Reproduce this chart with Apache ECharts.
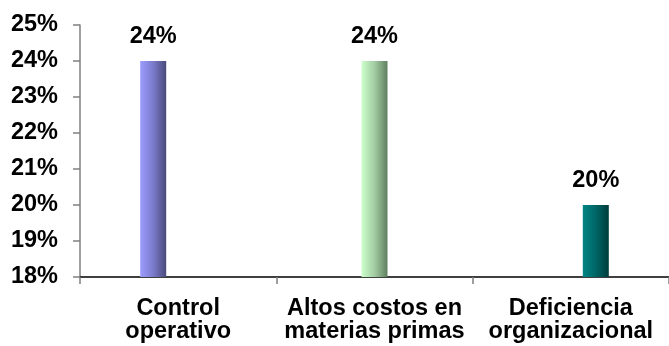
<!DOCTYPE html>
<html>
<head>
<meta charset="utf-8">
<script src="https://cdn.jsdelivr.net/npm/echarts@6/dist/echarts.min.js"></script>
<style>
  html, body { margin: 0; padding: 0; background: #ffffff; }
  #chart { width: 669px; height: 346px; }
</style>
</head>
<body>
<div id="chart"></div>
<script>
// Categories along the x axis
const categories = ['Control\noperativo', 'Altos costos en\nmaterias primas', 'Deficiencia\norganizacional'];
// One series per category (clustered slot), share as a fraction
const controlOperativo = [0.24, null, null];
const altosCostos = [null, 0.24, null];
const deficiencia = [null, null, 0.20];
// Y axis range and step
const yMin = 0.18;
const yMax = 0.25;
const yStep = 0.01;

const FONT = 'Liberation Sans, Arial, sans-serif';
const FS = 23.5;

// Light-to-dark shading across the bar width
function grad(c1, c2, c3) {
  return new echarts.graphic.LinearGradient(0, 0, 1, 0, [
    { offset: 0, color: c1 },
    { offset: 0.5, color: c2 },
    { offset: 1, color: c3 }
  ]);
}

const pct = v => Math.round(v * 100) + '%';

function barSeries(name, data, color) {
  return {
    name: name,
    type: 'bar',
    data: data,
    barWidth: 26,
    barGap: '-4%',
    itemStyle: { color: color },
    label: {
      show: true,
      position: 'top',
      distance: 12,
      formatter: p => pct(p.value),
      fontFamily: FONT,
      fontWeight: 'bold',
      fontSize: FS,
      color: '#000'
    }
  };
}

const chart = echarts.init(document.getElementById('chart'), null, { renderer: 'canvas' });
chart.setOption({
  animation: false,
  backgroundColor: '#ffffff',
  grid: { left: 80, right: -2, top: 25, bottom: 69 },
  xAxis: {
    type: 'category',
    data: categories,
    boundaryGap: true,
    axisLine: { show: true, lineStyle: { color: '#000', width: 1.5 } },
    axisTick: { show: true, length: 7, lineStyle: { color: '#808080', width: 1.5 } },
    axisLabel: {
      fontFamily: FONT,
      fontWeight: 'bold',
      fontSize: FS,
      lineHeight: 23,
      color: '#000',
      margin: 20,
      interval: 0
    },
    splitLine: { show: false }
  },
  yAxis: {
    type: 'value',
    min: yMin,
    max: yMax,
    interval: yStep,
    axisLine: { show: true, lineStyle: { color: '#808080', width: 1.5 } },
    axisTick: { show: true, length: 7, lineStyle: { color: '#808080', width: 1.5 } },
    axisLabel: {
      formatter: v => pct(v),
      fontFamily: FONT,
      fontWeight: 'bold',
      fontSize: FS,
      color: '#000',
      margin: 22
    },
    splitLine: { show: false }
  },
  series: [
    barSeries('Control operativo', controlOperativo, grad('#9c9cff', '#7b7bcc', '#4a4a7a')),
    barSeries('Altos costos en materias primas', altosCostos, grad('#ccffcc', '#a3cca3', '#5f7f5f')),
    barSeries('Deficiencia organizacional', deficiencia, grad('#008585', '#006666', '#003c3c'))
  ]
});
</script>
</body>
</html>
